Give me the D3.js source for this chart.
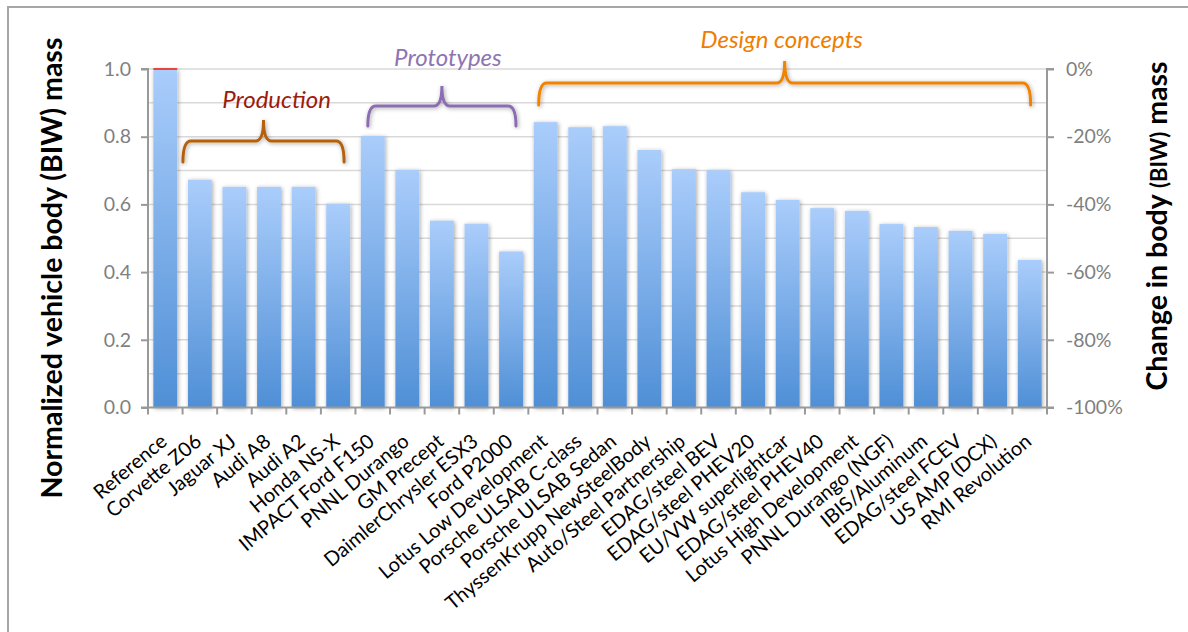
<!DOCTYPE html>
<html><head><meta charset="utf-8">
<script src="https://cdn.jsdelivr.net/npm/d3@7/dist/d3.min.js"></script>
<style>body{margin:0;background:#fff}svg{display:block}</style>
</head><body>
<svg id="c" width="1188" height="632"></svg>
<script>
const categories = ["Reference","Corvette Z06","Jaguar XJ","Audi A8","Audi A2","Honda NS-X","IMPACT Ford F150","PNNL Durango","GM Precept","DaimlerChrysler ESX3","Ford P2000","Lotus Low Development","Porsche ULSAB C-class","Porsche ULSAB Sedan","ThyssenKrupp NewSteelBody","Auto/Steel Partnership","EDAG/steel BEV","EDAG/steel PHEV20","EU/VW superlightcar","EDAG/steel PHEV40","Lotus High Development","PNNL Durango (NGF)","IBIS/Aluminum","EDAG/steel FCEV","US AMP (DCX)","RMI Revolution"];
const massValues = [1.0,0.673,0.652,0.652,0.652,0.602,0.802,0.702,0.552,0.543,0.461,0.843,0.828,0.831,0.761,0.704,0.701,0.636,0.613,0.589,0.581,0.542,0.533,0.522,0.513,0.436];
const leftTicks = [0,0.2,0.4,0.6,0.8,1.0];
const rightTicks = [-1,-0.8,-0.6,-0.4,-0.2,0];
const groups = [
  {name:"Production", first:"Corvette Z06", last:"Honda NS-X"},
  {name:"Prototypes", first:"IMPACT Ford F150", last:"Ford P2000"},
  {name:"Design concepts", first:"Lotus Low Development", last:"RMI Revolution"}
];

const svg = d3.select("#c");
const L = 148, R = 1047, T = 69, B = 407.5;
const x = d3.scaleBand().domain(categories).range([L, R]).paddingInner(0.31).paddingOuter(0.155);
const y = d3.scaleLinear().domain([0,1]).range([B, T]);
const y2 = d3.scaleLinear().domain([-1,0]).range([B, T]);

// frame
svg.append("rect").attr("x",8).attr("y",7).attr("width",1300).attr("height",700)
  .attr("fill","none").attr("stroke","#a6a6a6").attr("stroke-width",2);

const defs = svg.append("defs");
const g = defs.append("linearGradient").attr("id","bar").attr("x1",0).attr("y1",0).attr("x2",0).attr("y2",1);
g.append("stop").attr("offset","0%").attr("stop-color","#aacdfb");
g.append("stop").attr("offset","100%").attr("stop-color","#4f8fd6");
const f = defs.append("filter").attr("id","sh").attr("x","-30%").attr("y","-10%").attr("width","160%").attr("height","120%");
f.append("feDropShadow").attr("dx",1).attr("dy",1).attr("stdDeviation",2).attr("flood-color","#000").attr("flood-opacity",0.35);

// gridlines every 0.1
svg.append("g").selectAll("line").data(d3.range(1,11).map(d=>d/10)).join("line")
  .attr("x1",L).attr("x2",R).attr("y1",d=>y(d)).attr("y2",d=>y(d))
  .attr("stroke","#d9d9d9").attr("stroke-width",1.5);

// bars
svg.append("g").selectAll("rect").data(categories).join("rect")
  .attr("x",d=>x(d)).attr("width",x.bandwidth())
  .attr("y",(d,i)=>y(massValues[i])).attr("height",(d,i)=>B-y(massValues[i]))
  .attr("fill","url(#bar)").attr("filter","url(#sh)");
// red cap on reference
svg.append("line").attr("x1",x(categories[0])).attr("x2",x(categories[0])+x.bandwidth())
  .attr("y1",y(massValues[0])).attr("y2",y(massValues[0])).attr("stroke","#e8453c").attr("stroke-width",2);

const tickFont = "Lato, 'Open Sans', sans-serif";
// left axis
const ax = d3.axisLeft(y).tickValues(leftTicks).tickFormat(d3.format(".1f")).tickSize(7).tickPadding(10);
const ga = svg.append("g").attr("transform",`translate(${L},0)`).call(ax);
ga.select(".domain").attr("stroke","#999").attr("stroke-width",2).attr("d",`M-7,${T}H0V${B}H-7`);
ga.selectAll(".tick line").attr("stroke","#999").attr("stroke-width",2);
ga.selectAll("text").attr("fill","#7f7f7f").style("font-family",tickFont).style("font-size","19.5px");

// right axis
const pct = d => Math.round(d*100) + "%";
const ar = d3.axisRight(y2).tickValues(rightTicks).tickFormat(pct).tickSize(7).tickPadding(12);
const gr = svg.append("g").attr("transform",`translate(${R},0)`).call(ar);
gr.select(".domain").attr("stroke","#999").attr("stroke-width",2).attr("d",`M7,${T}H0V${B}H7`);
gr.selectAll(".tick line").attr("stroke","#999").attr("stroke-width",2);
gr.selectAll("text").attr("fill","#7f7f7f").style("font-family",tickFont).style("font-size","19.5px");

// bottom axis
const bandStep = x.step();
const bx = svg.append("g");
bx.append("line").attr("x1",L).attr("x2",R).attr("y1",B).attr("y2",B).attr("stroke","#999").attr("stroke-width",2);
bx.selectAll("line.t").data(d3.range(categories.length+1)).join("line").attr("class","t")
  .attr("x1",i=>L+i*bandStep).attr("x2",i=>L+i*bandStep).attr("y1",B).attr("y2",B+7)
  .attr("stroke","#999").attr("stroke-width",2);
bx.selectAll("text").data(categories).join("text")
  .attr("transform",d=>`translate(${x(d)+x.bandwidth()/2+3},${B+36}) rotate(-40)`)
  .attr("text-anchor","end").attr("fill","#000")
  .style("font-family",tickFont).style("font-size","20px").text(d=>d);

// axis titles
const t1 = svg.append("text").attr("transform","translate(62,268) rotate(-90)").attr("text-anchor","middle")
  .style("font-family",tickFont).style("font-weight","bold").style("font-size","28.5px").attr("fill","#000");
t1.text("Normalized vehicle body (BIW) mass");
const t2 = svg.append("text").attr("transform","translate(1167,226) rotate(-90)").attr("text-anchor","middle")
  .style("font-family",tickFont).style("font-weight","bold").style("font-size","28.5px").attr("fill","#000");
t2.append("tspan").text("Change in body ");
t2.append("tspan").style("font-size","22px").text("(BIW)");
t2.append("tspan").text(" mass");

// brackets
const bracketStyle = [
  {stroke:"#b5600c", text:"#9c1c0c", top:141, end:162, peak:120, ty:108, dl:-5, dr:-6, dt:13},
  {stroke:"#8c6db1", text:"#8f74b4", top:106, end:126, peak:86, ty:66, dl:7, dr:-7, dt:6},
  {stroke:"#f08300", text:"#ef7d00", top:83, end:105, peak:61, ty:48, dl:5, dr:-11, dt:-3}
];
groups.forEach((gr,i)=>{
  const s = bracketStyle[i];
  const x1 = x(gr.first) + s.dl;
  const x2 = x(gr.last) + x.bandwidth() + s.dr;
  const cx = (x1 + x2)/2;
  const r = 8;
  const p = d3.path();
  p.moveTo(x1, s.end);
  p.quadraticCurveTo(x1, s.top, x1+r, s.top);
  p.lineTo(cx-r, s.top);
  p.quadraticCurveTo(cx, s.top, cx, s.peak);
  p.quadraticCurveTo(cx, s.top, cx+r, s.top);
  p.lineTo(x2-r, s.top);
  p.quadraticCurveTo(x2, s.top, x2, s.end);
  svg.append("path").attr("d",p.toString()).attr("fill","none").attr("stroke",s.stroke)
    .attr("stroke-width",3).attr("stroke-linecap","round").attr("filter","url(#sh)");
  svg.append("text").attr("x",cx + s.dt).attr("y",s.ty).attr("text-anchor","middle")
    .attr("fill",s.text).style("font-family",tickFont).style("font-style","italic").style("font-size","24px")
    .text(gr.name);
});
</script>
</body></html>
